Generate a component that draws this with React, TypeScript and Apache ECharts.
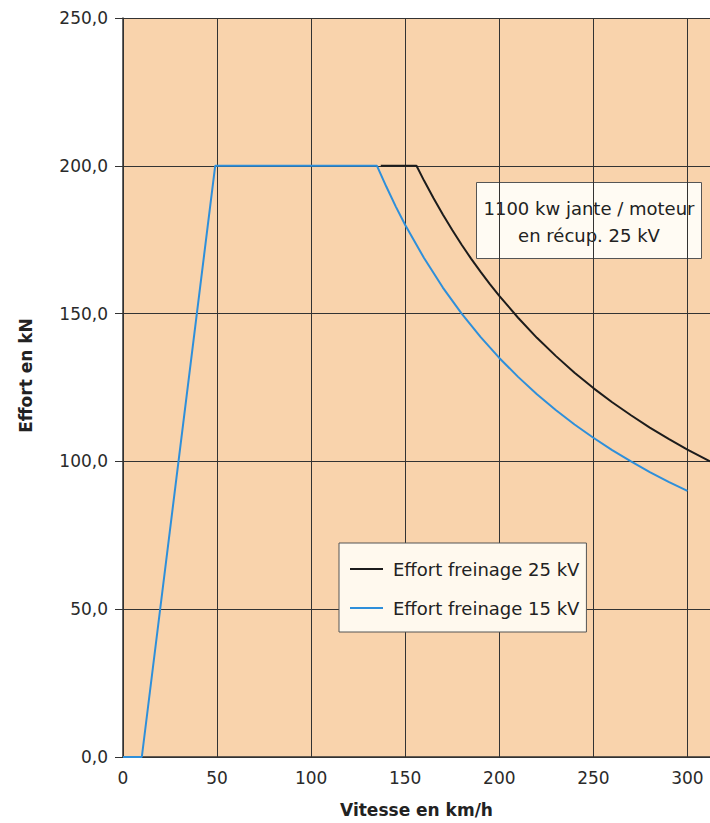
import React, { useEffect, useRef } from "react";
import * as echarts from "echarts";

const speed15 = [0, 10, 49, 135, 140, 145, 150, 160, 170, 180, 190, 200, 210, 220, 230, 240, 250, 260, 270, 280, 290, 300];
const effort15 = [0, 0, 200, 200, 192.9, 186.2, 180, 168.8, 158.8, 150, 142.1, 135, 128.6, 122.7, 117.4, 112.5, 108, 103.8, 100, 96.4, 93.1, 90];
const speed25 = [137, 156, 160, 165, 170, 175, 180, 185, 190, 195, 200, 210, 220, 230, 240, 250, 260, 270, 280, 290, 300, 312];
const effort25 = [200, 200, 195, 189.1, 183.5, 178.3, 173.3, 168.6, 164.2, 160, 156, 148.6, 141.8, 135.7, 130, 124.8, 120, 115.6, 111.4, 107.6, 104, 100];
const seriesNames = ["Effort freinage 25 kV", "Effort freinage 15 kV"];
const noteLines = ["1100 kw jante / moteur", "en récup. 25 kV"];
const xName = "Vitesse en km/h";
const yName = "Effort en kN";

const FONT = "'DejaVu Sans', sans-serif";

export default function App() {
  const ref = useRef<HTMLDivElement>(null);
  useEffect(() => {
    document.body.style.margin = "0";
    const chart = echarts.init(ref.current!, null, { renderer: "svg" });
    const d15 = speed15.map((s, i) => [s, effort15[i]]);
    const d25 = speed25.map((s, i) => [s, effort25[i]]);
    chart.setOption({
      animation: false,
      backgroundColor: "#ffffff",
      textStyle: { fontFamily: FONT },
      grid: {
        left: 123,
        top: 18,
        right: 0,
        bottom: 66,
        show: true,
        backgroundColor: "#F9D3AC",
        borderWidth: 0,
      },
      xAxis: {
        type: "value",
        min: 0,
        max: 312,
        interval: 50,
        name: xName,
        nameLocation: "middle",
        nameGap: 44,
        nameTextStyle: { fontFamily: FONT, fontSize: 17, fontWeight: "bold", color: "#222" },
        axisLine: { show: true, lineStyle: { color: "#333", width: 1.5 } },
        axisTick: { show: false },
        axisLabel: { fontFamily: FONT, fontSize: 17, color: "#2a2a2a", margin: 12, showMaxLabel: false },
        splitLine: { show: true, lineStyle: { color: "#333", width: 1 } },
      },
      yAxis: {
        type: "value",
        min: 0,
        max: 250,
        interval: 50,
        name: yName,
        nameLocation: "middle",
        nameGap: 89,
        nameTextStyle: { fontFamily: FONT, fontSize: 17, fontWeight: "bold", color: "#222", padding: [0, 0, 0, 24] },
        axisLine: { show: true, lineStyle: { color: "#333", width: 1.5 } },
        axisTick: { show: true, length: 8, lineStyle: { color: "#333" } },
        axisLabel: {
          fontFamily: FONT,
          fontSize: 17,
          color: "#2a2a2a",
          margin: 15,
          formatter: (v: number) => v.toFixed(1).replace(".", ","),
        },
        splitLine: { show: true, lineStyle: { color: "#333", width: 1 } },
      },
      legend: {
        orient: "vertical",
        left: 339,
        top: 543,
        data: seriesNames,
        backgroundColor: "#FFF9EE",
        borderColor: "#555",
        borderWidth: 1,
        padding: [17, 7, 15, 11],
        itemGap: 21,
        itemWidth: 33,
        itemHeight: 2,
        icon: "rect",
        textStyle: { fontFamily: FONT, fontSize: 18, color: "#222", padding: [0, 0, 0, 5] },
      },
      graphic: [
        {
          type: "group",
          left: 476,
          top: 182,
          children: [
            {
              type: "rect",
              shape: { x: 0, y: 0, width: 225, height: 76 },
              style: { fill: "#FFFBF3", stroke: "#555", lineWidth: 1 },
            },
            {
              type: "text",
              x: 112.5,
              y: 39,
              style: {
                text: noteLines.join("\n"),
                fontFamily: FONT,
                fontSize: 18,
                fill: "#222",
                align: "center",
                verticalAlign: "middle",
                lineHeight: 27,
              },
            },
          ],
        },
      ],
      series: [
        {
          name: seriesNames[0],
          type: "line",
          data: d25,
          showSymbol: false,
          symbol: "none",
          lineStyle: { color: "#1c1c1c", width: 2 },
          itemStyle: { color: "#1c1c1c" },
          z: 3,
        },
        {
          name: seriesNames[1],
          type: "line",
          data: d15,
          showSymbol: false,
          symbol: "none",
          lineStyle: { color: "#2E8FDA", width: 2 },
          itemStyle: { color: "#2E8FDA" },
          z: 4,
        },
      ],
    });
    return () => chart.dispose();
  }, []);
  return <div ref={ref} style={{ width: 710, height: 823 }} />;
}
